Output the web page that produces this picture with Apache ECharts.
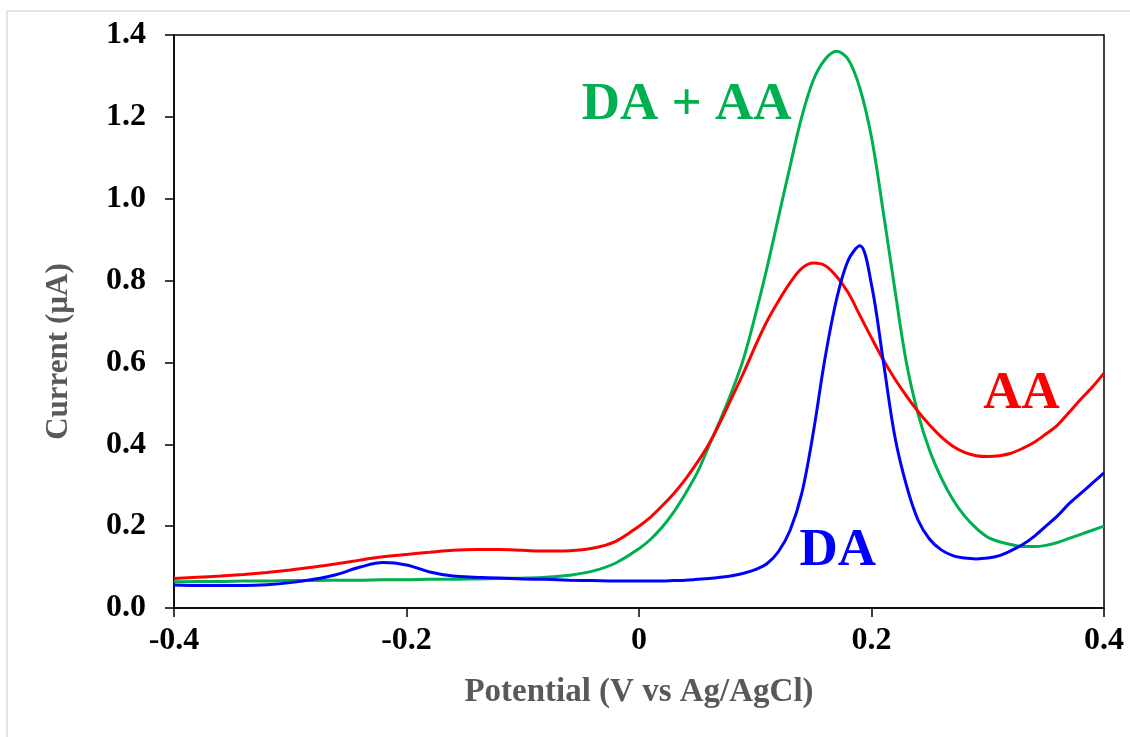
<!DOCTYPE html>
<html>
<head>
<meta charset="utf-8">
<script src="https://cdn.jsdelivr.net/npm/echarts@6/dist/echarts.min.js"></script>
<style>
  html, body { margin: 0; padding: 0; background: #fff; }
  #chart { width: 1130px; height: 737px; }
</style>
</head>
<body>
<div id="chart"></div>
<script>
// potential (V vs Ag/AgCl)
const potential = [
  -0.40, -0.38, -0.36, -0.34, -0.32, -0.30, -0.28, -0.26, -0.24, -0.22,
  -0.20, -0.18, -0.16, -0.14, -0.12, -0.10, -0.08, -0.06, -0.04, -0.02,
  0.00, 0.01, 0.02, 0.03, 0.04, 0.05, 0.06, 0.07, 0.08, 0.09,
  0.10, 0.11, 0.12, 0.13, 0.14, 0.15, 0.16, 0.17, 0.18, 0.19,
  0.20, 0.21, 0.22, 0.23, 0.24, 0.25, 0.26, 0.27, 0.28, 0.29,
  0.30, 0.31, 0.32, 0.33, 0.34, 0.35, 0.36, 0.37, 0.38, 0.39, 0.40
];

// current (uA)
const daAa = [
  0.064, 0.065, 0.065, 0.066, 0.066, 0.067, 0.067, 0.068, 0.068, 0.069,
  0.069, 0.070, 0.070, 0.071, 0.072, 0.073, 0.075, 0.080, 0.090, 0.110,
  0.145, 0.168, 0.198, 0.235, 0.280, 0.330, 0.395, 0.460, 0.530, 0.610,
  0.715, 0.830, 0.955, 1.080, 1.200, 1.290, 1.340, 1.360, 1.340, 1.270,
  1.150, 0.970, 0.780, 0.600, 0.475, 0.385, 0.318, 0.265, 0.225, 0.195,
  0.173, 0.162, 0.155, 0.150, 0.150, 0.153, 0.160, 0.170, 0.180, 0.190, 0.200
];

const aa = [
  0.072, 0.075, 0.078, 0.082, 0.087, 0.093, 0.100, 0.108, 0.117, 0.125,
  0.131, 0.136, 0.141, 0.143, 0.143, 0.141, 0.139, 0.140, 0.146, 0.163,
  0.200, 0.222, 0.250, 0.280, 0.315, 0.355, 0.400, 0.455, 0.515, 0.575,
  0.640, 0.700, 0.750, 0.795, 0.830, 0.843, 0.837, 0.810, 0.770, 0.715,
  0.660, 0.607, 0.560, 0.518, 0.480, 0.447, 0.418, 0.395, 0.380, 0.372,
  0.370, 0.372, 0.378, 0.390, 0.405, 0.425, 0.447, 0.478, 0.510, 0.540, 0.574
];

const da = [
  0.056, 0.055, 0.055, 0.055, 0.057, 0.062, 0.070, 0.082, 0.100, 0.111,
  0.105, 0.088, 0.078, 0.075, 0.073, 0.071, 0.070, 0.068, 0.067, 0.066,
  0.066, 0.066, 0.066, 0.067, 0.068, 0.070, 0.072, 0.075, 0.079, 0.085,
  0.094, 0.108, 0.138, 0.190, 0.280, 0.430, 0.610, 0.755, 0.850, 0.885,
  0.790, 0.606, 0.420, 0.300, 0.215, 0.168, 0.142, 0.128, 0.122, 0.120,
  0.122, 0.128, 0.140, 0.155, 0.175, 0.200, 0.225, 0.255, 0.280, 0.305, 0.330
];

const seriesNames = ['DA + AA', 'AA', 'DA'];
const seriesColors = ['#00B050', '#FF0000', '#0000FF'];
// label anchor points in data units [potential, current]
const labelAnchors = [[0.041, 1.228], [0.329, 0.522], [0.171, 0.138]];

const serif = '"Liberation Serif", "Times New Roman", serif';

function pairs(ys) {
  return potential.map((x, i) => [x, ys[i]]);
}

const chart = echarts.init(document.getElementById('chart'));

const option = {
  animation: false,
  backgroundColor: '#fff',
  grid: {
    left: 174,
    right: 26,
    top: 35,
    bottom: 129,
    show: true,
    borderColor: '#000',
    borderWidth: 1.5
  },
  graphic: [
    {
      type: 'rect',
      shape: { x: 7, y: 11, width: 1140, height: 740 },
      style: { fill: 'none', stroke: '#dcdcdc', lineWidth: 1.5 },
      silent: true
    }
  ],
  xAxis: {
    type: 'value',
    min: -0.4,
    max: 0.4,
    interval: 0.2,
    name: 'Potential (V vs Ag/AgCl)',
    nameLocation: 'middle',
    nameGap: 68,
    nameTextStyle: { fontFamily: serif, fontWeight: 'bold', fontSize: 33, color: '#595959' },
    axisLine: { onZero: false, lineStyle: { color: '#000', width: 1.5 } },
    axisTick: { inside: false, length: 9, lineStyle: { color: '#000', width: 1.5 } },
    axisLabel: {
      margin: 17,
      fontFamily: serif,
      fontWeight: 'bold',
      fontSize: 32,
      color: '#000',
      formatter: v => (Math.abs(v) < 1e-9 ? '0' : v.toFixed(1))
    },
    splitLine: { show: false }
  },
  yAxis: {
    type: 'value',
    min: 0,
    max: 1.4,
    interval: 0.2,
    name: 'Current (µA)',
    nameLocation: 'middle',
    nameGap: 100,
    nameTextStyle: {
      fontFamily: serif, fontWeight: 'bold', fontSize: 31, color: '#595959',
      padding: [0, 60, 0, 0]
    },
    axisLine: { show: true, onZero: false, lineStyle: { color: '#000', width: 1.5 } },
    axisTick: { show: true, inside: false, length: 9, lineStyle: { color: '#000', width: 1.5 } },
    axisLabel: {
      margin: 28,
      fontFamily: serif,
      fontWeight: 'bold',
      fontSize: 32,
      color: '#000',
      formatter: v => v.toFixed(1)
    },
    splitLine: { show: false }
  },
  series: [daAa, aa, da].map((ys, i) => ({
    name: seriesNames[i],
    type: 'line',
    data: pairs(ys),
    showSymbol: false,
    symbol: 'none',
    smooth: 0.35,
    lineStyle: { color: seriesColors[i], width: 3 },
    itemStyle: { color: seriesColors[i] },
    markPoint: {
      symbol: 'circle',
      symbolSize: 1,
      itemStyle: { color: 'rgba(0,0,0,0)' },
      data: [{
        coord: labelAnchors[i],
        label: {
          show: true,
          position: 'inside',
          formatter: seriesNames[i],
          fontFamily: serif,
          fontWeight: 'bold',
          fontSize: 53,
          color: seriesColors[i]
        }
      }]
    }
  }))
};

chart.setOption(option);
</script>
</body>
</html>
